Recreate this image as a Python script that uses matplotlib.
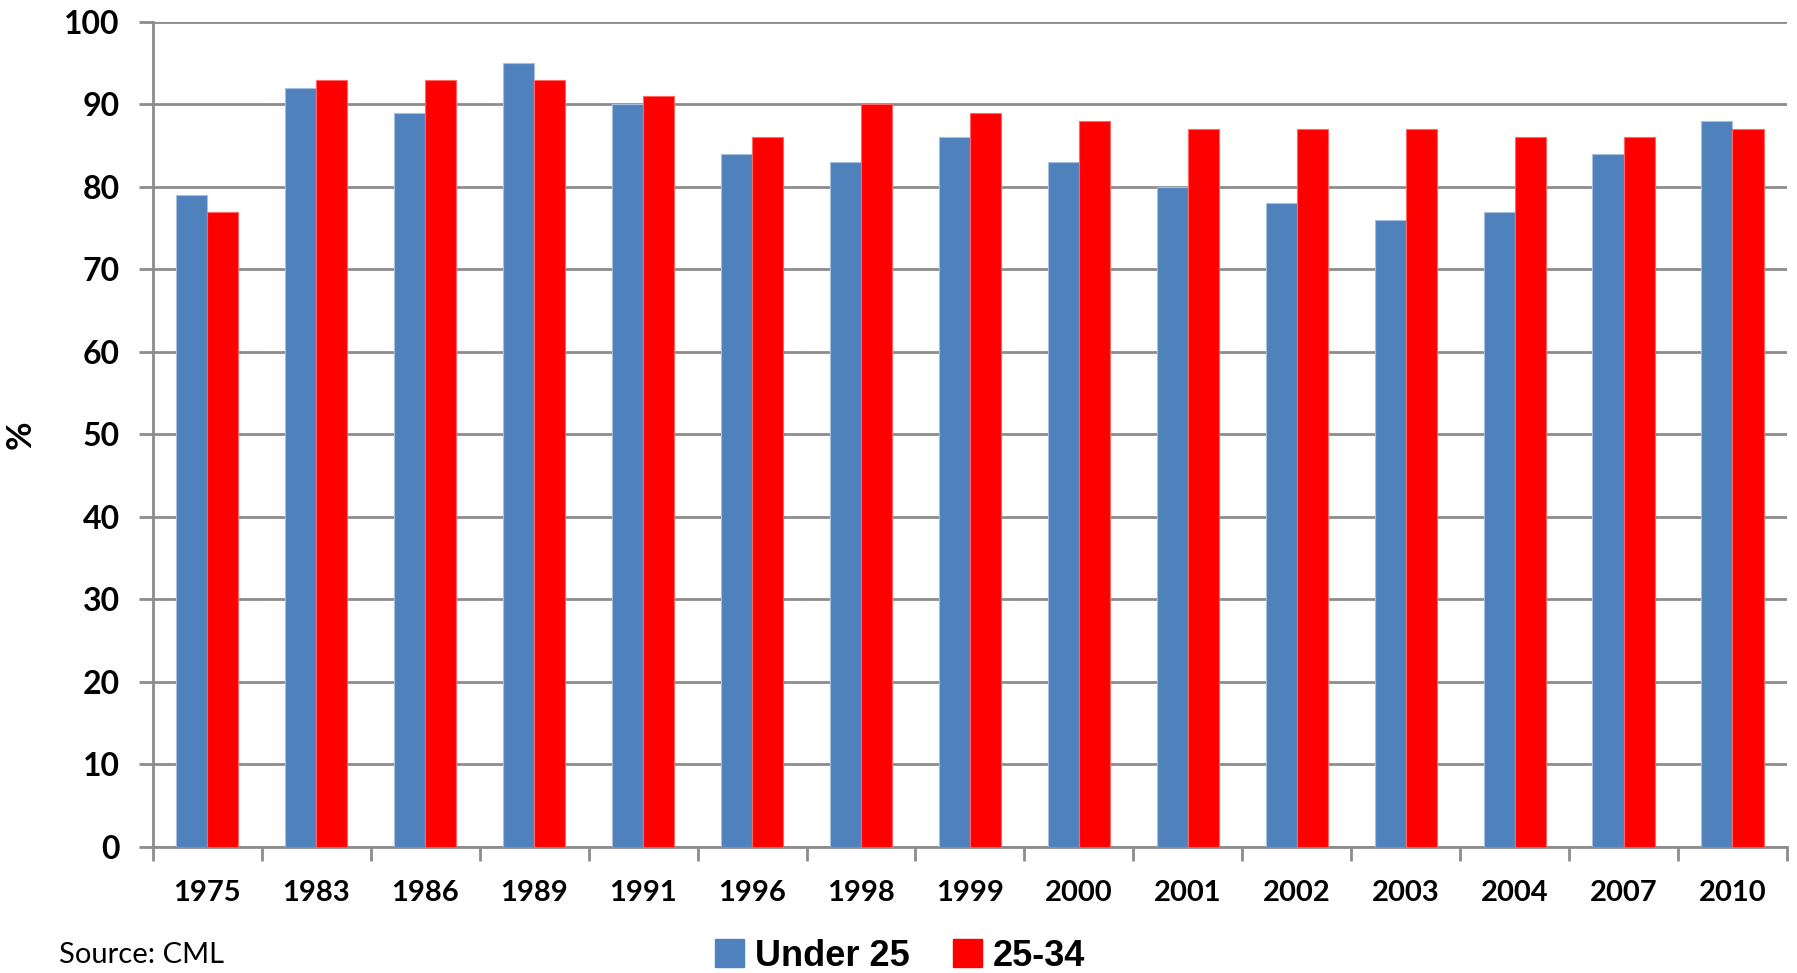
import matplotlib
matplotlib.use("Agg")
import matplotlib.pyplot as plt
import numpy as np
from matplotlib.patches import Patch

years = ["1975", "1983", "1986", "1989", "1991", "1996", "1998", "1999",
         "2000", "2001", "2002", "2003", "2004", "2007", "2010"]
under_25 = [79, 92, 89, 95, 90, 84, 83, 86, 83, 80, 78, 76, 77, 84, 88]
age_25_34 = [77, 93, 93, 93, 91, 86, 90, 89, 88, 87, 87, 87, 86, 86, 87]

BLUE = "#4F81BD"
RED = "#FF0000"
GRID = "#8C8C8C"

plt.rcParams["font.family"] = "Lato"
plt.rcParams["font.weight"] = "bold"

fig = plt.figure(figsize=(17.97, 9.73), dpi=100)
ax = fig.add_axes([0.0851, 0.1295, 0.9093, 0.8479])

x = np.arange(len(years))
w = 0.285
ax.bar(x - w / 2, under_25, width=w, color=BLUE, edgecolor="#A7BFDE", linewidth=0.8, zorder=3)
ax.bar(x + w / 2, age_25_34, width=w, color=RED, edgecolor="#FF6666", linewidth=0.8, zorder=3)

ax.set_xlim(-0.5, len(years) - 0.5)
ax.set_ylim(0, 100)
ax.set_yticks(range(0, 101, 10))
ax.yaxis.grid(True, color=GRID, linewidth=2, zorder=0)

for side in ["top", "right"]:
    ax.spines[side].set_visible(False)
for side in ["left", "bottom"]:
    ax.spines[side].set_color(GRID)
    ax.spines[side].set_linewidth(2)

# ticks sit on category boundaries, labels centred under each pair
ax.set_xticks(np.arange(-0.5, len(years), 1.0))
ax.set_xticklabels([])
ax.set_xticks(x, minor=True)
ax.set_xticklabels(years, minor=True, fontsize=21, fontweight="bold")
ax.tick_params(axis="x", which="major", length=10, width=2, color=GRID, direction="out")
ax.tick_params(axis="x", which="minor", length=0, pad=24)
ax.tick_params(axis="y", length=10, width=2, color=GRID, pad=14, labelsize=23)

ax.set_ylabel("%", fontsize=25, fontweight="bold", labelpad=20)

handles = [Patch(facecolor=BLUE, edgecolor=BLUE), Patch(facecolor=RED, edgecolor=RED)]
fig.legend(handles, ["Under 25", "25-34"], loc="center", bbox_to_anchor=(900 / 1797, 1 - 956 / 973),
           ncol=2, frameon=False, prop={"family": "Liberation Sans", "weight": "bold", "size": 26},
           handlelength=0.8, handleheight=0.8, handletextpad=0.3, columnspacing=1.2)

fig.text(59 / 1797, 1 - 963 / 973, "Source: CML", fontsize=21, fontweight="normal", va="baseline")

fig.savefig("out.png", dpi=100)
